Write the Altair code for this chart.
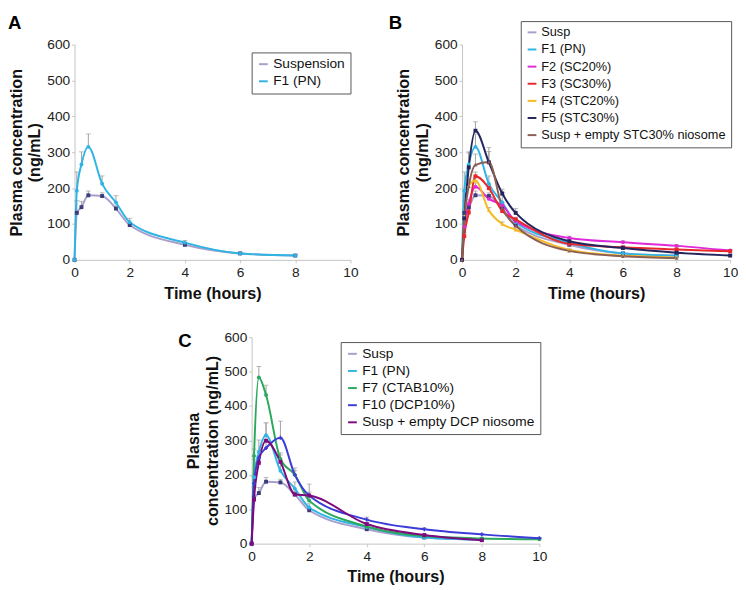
import altair as alt
import pandas as pd

FONT = "Arial"

# ---------------- data ----------------
T8 = [0, 0.083, 0.25, 0.5, 1, 1.5, 2, 4, 6, 8]
T10 = [0, 0.083, 0.25, 0.5, 1, 1.5, 2, 4, 6, 8, 10]

susp = [0, 131, 147, 180, 178, 143, 97, 42, 18, 12]
susp_err = [0, 34, 16, 12, 9, 8, 5, 4, 3, 2]
f1 = [0, 193, 266, 315, 212, 160, 105, 48, 18, 12]
f1_err = [0, 52, 35, 36, 22, 19, 11, 6, 3, 2]
f2 = [0, 92, 156, 204, 170, 152, 108, 61, 49, 39, 26]
f2_err = [0, 10, 12, 10, 8, 8, 6, 5, 4, 4, 3]
f3 = [0, 66, 132, 233, 200, 136, 113, 45, 35, 29, 24]
f3_err = [0, 10, 12, 12, 10, 8, 6, 5, 4, 3, 3]
f4 = [0, 122, 206, 221, 138, 100, 84, 28, 12, 7]
f4_err = [0, 12, 14, 12, 8, 6, 5, 3, 2, 2]
f5 = [0, 116, 258, 360, 272, 185, 131, 52, 33, 20, 12]
f5_err = [0, 14, 40, 25, 30, 12, 12, 6, 4, 3, 2]
sus_stc = [0, 108, 205, 265, 273, 145, 95, 25, 10, 5]
sus_stc_err = [0, 12, 20, 30, 40, 10, 8, 4, 3, 2]
f7 = [0, 255, 483, 432, 246, 200, 125, 50, 22, 15, 13]
f7_err = [0, 20, 32, 28, 18, 12, 8, 5, 3, 2, 2]
f10 = [0, 175, 250, 278, 308, 200, 140, 70, 42, 27, 16]
f10_err = [0, 20, 20, 22, 48, 20, 33, 7, 4, 3, 2]
sus_dcp = [0, 128, 235, 299, 238, 143, 140, 57, 25, 10]
sus_dcp_err = [0, 10, 20, 52, 20, 10, 10, 5, 3, 2]

SUSP_LINE = "#a79fcc"
SUSP_MARK = "#3c3c7c"
CYAN = "#2fb4e4"
MAGENTA = "#e02ad8"
RED = "#e8282c"
YELLOW = "#f6ba22"
NAVY = "#25255e"
BROWN = "#8c5f55"
GREEN = "#2aa85c"
BLUE = "#3b3bd8"
PURPLE = "#7e0a7e"

panelA = [
    ("Suspension", T8, susp, susp_err, SUSP_LINE, SUSP_MARK, "square"),
    ("F1 (PN)", T8, f1, f1_err, CYAN, CYAN, "circle"),
]
panelB = [
    ("Susp", T8, susp, susp_err, SUSP_LINE, SUSP_MARK, "square"),
    ("F1 (PN)", T8, f1, f1_err, CYAN, CYAN, "circle"),
    ("F2 (SC20%)", T10, f2, f2_err, MAGENTA, MAGENTA, "circle"),
    ("F3 (SC30%)", T10, f3, f3_err, RED, RED, "square"),
    ("F4 (STC20%)", T8, f4, f4_err, YELLOW, YELLOW, "triangle-up"),
    ("F5 (STC30%)", T10, f5, f5_err, NAVY, NAVY, "square"),
    ("Susp + empty STC30% niosome", T8, sus_stc, sus_stc_err, BROWN, BROWN, "triangle-up"),
]
panelC = [
    ("Susp", T8, susp, susp_err, SUSP_LINE, SUSP_MARK, "square"),
    ("F1 (PN)", T8, f1, f1_err, CYAN, CYAN, "circle"),
    ("F7 (CTAB10%)", T10, f7, f7_err, GREEN, GREEN, "circle"),
    ("F10 (DCP10%)", T10, f10, f10_err, BLUE, BLUE, "cross"),
    ("Susp + empty DCP niosome", T8, sus_dcp, sus_dcp_err, PURPLE, PURPLE, "square"),
]


def panel(series, width, height, lx, ly, lfs, ytitle, letter, ltx, lty, key):
    rows = []
    for name, ts, vs, es, lc, mc, shp in series:
        for t, v, e in zip(ts, vs, es):
            rows.append({"series": name, "t": t, "c": v, "err": e,
                         "top": v + e, "mc": mc, "shp": shp})
    df = pd.DataFrame(rows)
    names = [s[0] for s in series]
    lcols = [s[4] for s in series]

    xenc = alt.X("t:Q", scale=alt.Scale(domain=[0, 10], nice=False, padding=0),
                 axis=alt.Axis(values=[0, 2, 4, 6, 8, 10], title="Time (hours)"))
    yaxis = alt.Axis(values=[0, 100, 200, 300, 400, 500, 600], title=ytitle)
    yscale = alt.Scale(domain=[0, 600], nice=False, padding=0)

    base = alt.Chart(df)
    line = base.mark_line(strokeWidth=2, interpolate="monotone").encode(
        x=xenc,
        y=alt.Y("c:Q", scale=yscale, axis=yaxis),
        color=alt.Color("series:N", title=key,
                        scale=alt.Scale(domain=names, range=lcols),
                        legend=alt.Legend(title=None, orient="none", legendX=lx, legendY=ly,
                                          symbolType="stroke", symbolStrokeWidth=2,
                                          symbolSize=80, labelFontSize=lfs, labelFont=FONT,
                                          labelColor="#111", labelLimit=400,
                                          strokeColor="#555", fillColor="white",
                                          padding=5, rowPadding=3.5, labelOffset=3)),
        detail="series:N",
    )
    errs = base.transform_filter("datum.err > 0")
    rule = errs.mark_rule(color="#a0a0a0", strokeWidth=1).encode(
        x=xenc, y=alt.Y("c:Q", scale=yscale, axis=yaxis), y2="top:Q")
    cap = errs.mark_tick(color="#a0a0a0", thickness=1, size=5, orient="horizontal").encode(
        x=xenc, y=alt.Y("top:Q", scale=yscale, axis=yaxis))
    pts = base.mark_point(filled=True, size=16, opacity=1).encode(
        x=xenc, y=alt.Y("c:Q", scale=yscale, axis=yaxis),
        color=alt.Color("mc:N", scale=None),
        shape=alt.Shape("shp:N", scale=None),
    )
    lab = alt.Chart(pd.DataFrame({"lab": [letter]})).mark_text(
        fontSize=19, fontWeight="bold", font=FONT, align="left", baseline="alphabetic",
        color="#000"
    ).encode(x=alt.value(ltx), y=alt.value(lty), text="lab:N")
    return alt.layer(rule, cap, line, pts, lab).properties(width=width, height=height)


A = panel(panelA, 282, 220, 181, 8, 14, ["Plasma concentration", "(ng/mL)"], "A", -68, -16, "a")
B = panel(panelB, 274, 220, 60, -24, 13, ["Plasma concentration", "(ng/mL)"], "B", -75, -16, "b")
C = panel(panelC, 294, 211, 91, 5, 14, ["Plasma", "concentration (ng/mL)"], "C", -75, 10, "c")

spacer = alt.Chart(pd.DataFrame({"a": [0]})).mark_point(opacity=0).encode(
    x=alt.X("a:Q", axis=None), y=alt.Y("a:Q", axis=None)).properties(width=1, height=211)

top = alt.hconcat(A, B, spacing=31).resolve_scale(color="independent")
bottom = alt.hconcat(spacer, C, spacing=102).resolve_scale(color="independent")

chart = alt.vconcat(top, bottom, spacing=29).resolve_scale(
    color="independent"
).properties(padding=0).configure_view(stroke=None).configure_axis(
    grid=False,
    domainColor="#c4c4c4",
    tickColor="#c4c4c4",
    tickSize=3,
    labelFont=FONT,
    labelFontSize=14,
    labelColor="#222",
    labelPadding=2,
    titleFont=FONT,
    titleFontSize=16.5,
    titleFontWeight="bold",
    titleColor="#111",
    titleLineHeight=19,
).configure_axisY(titlePadding=4).configure_axisX(titlePadding=6, labelPadding=3,
                                                  labelFlush=False)

chart.save("out.html", embed_options={"renderer": "svg", "actions": False})
